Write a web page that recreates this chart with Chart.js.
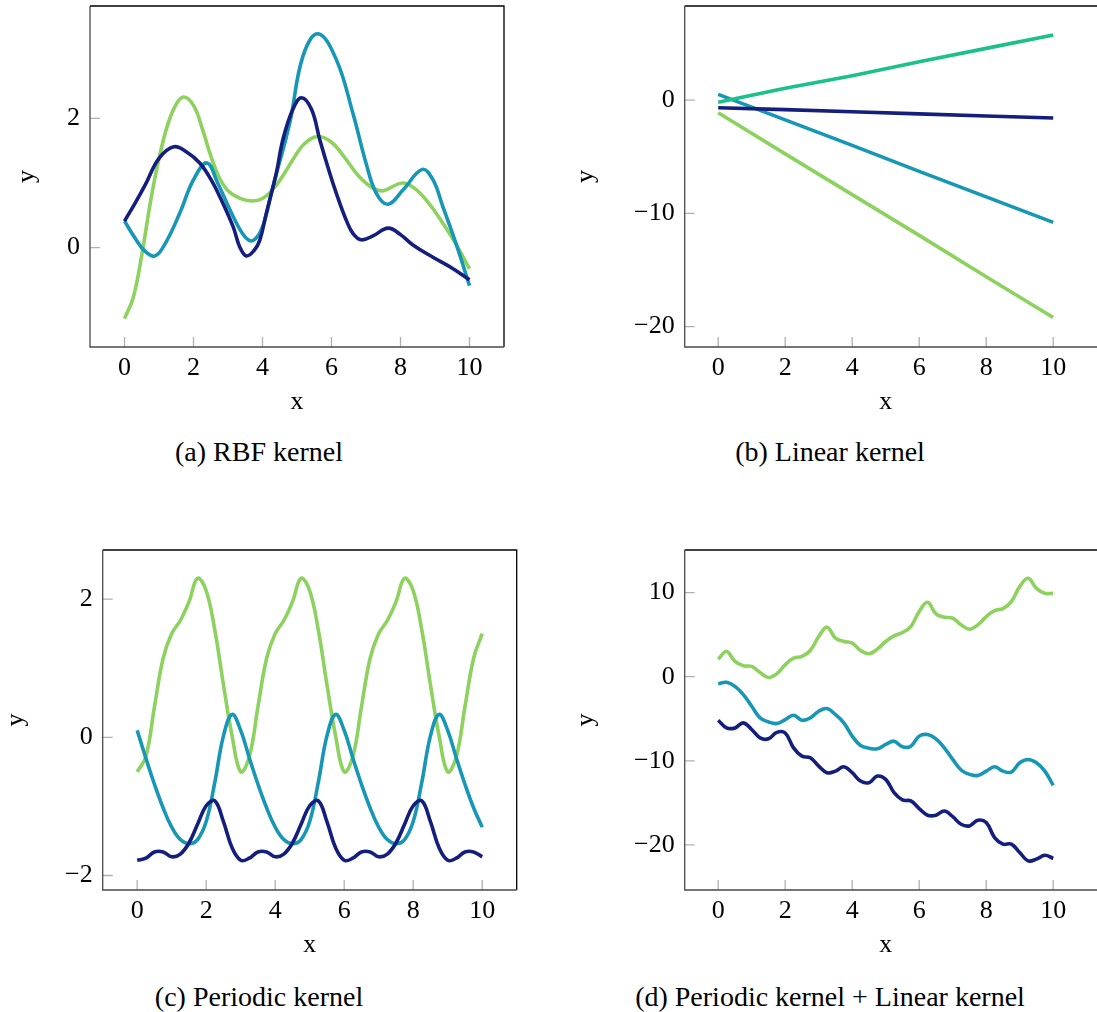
<!DOCTYPE html>
<html>
<head>
<meta charset="utf-8">
<script src="https://cdn.jsdelivr.net/npm/chart.js@4.4.1/dist/chart.umd.min.js"></script>
<style>
  body { margin: 0; background: #fff; width: 1097px; height: 1012px; overflow: hidden; position: relative; font-family: "Liberation Serif", serif; }
  canvas { position: absolute; }
  .cap { position: absolute; font-size: 28px; line-height: 28px; transform: translateX(-50%); white-space: nowrap; color: #000; }
</style>
</head>
<body>
<canvas id="rbf" width="520" height="427" style="left:0;top:0"></canvas>
<canvas id="lin" width="537" height="427" style="left:560px;top:0"></canvas>
<canvas id="per" width="530" height="426" style="left:0;top:544px"></canvas>
<canvas id="sum" width="537" height="426" style="left:560px;top:544px"></canvas>
<div class="cap" style="left:259px;top:438px">(a) RBF kernel</div>
<div class="cap" style="left:830px;top:438px">(b) Linear kernel</div>
<div class="cap" style="left:259px;top:983px">(c) Periodic kernel</div>
<div class="cap" style="left:830px;top:983px">(d) Periodic kernel + Linear kernel</div>
<script>
// x ticks shared by all four panels
const xTicks = [0, 2, 4, 6, 8, 10]

// (a) RBF kernel samples, [x, y]
const rbfGreen = [[0,-1.10],[0.25,-0.78],[0.5,-0.12],[0.75,0.70],[1.0,1.38],[1.25,1.90],[1.5,2.22],[1.72,2.33],[2.0,2.20],[2.25,1.85],[2.5,1.42],[2.75,1.08],[3.0,0.88],[3.35,0.76],[3.7,0.72],[4.0,0.76],[4.3,0.90],[4.6,1.12],[4.9,1.38],[5.2,1.60],[5.6,1.72],[6.0,1.63],[6.4,1.38],[6.8,1.10],[7.2,0.92],[7.5,0.88],[8.05,1.00],[8.4,0.92],[8.8,0.70],[9.2,0.40],[9.6,0.06],[10,-0.33]]
const rbfTeal = [[0,0.41],[0.3,0.15],[0.6,-0.06],[0.89,-0.13],[1.2,0.08],[1.6,0.53],[2.0,1.05],[2.39,1.31],[2.7,1.00],[3.15,0.48],[3.5,0.16],[3.73,0.11],[4.0,0.32],[4.3,0.94],[4.79,1.93],[5.17,2.96],[5.61,3.31],[6.14,2.91],[6.62,2.08],[7.0,1.31],[7.3,0.84],[7.64,0.67],[8.07,0.89],[8.63,1.21],[8.94,1.05],[9.23,0.63],[9.61,0.06],[10,-0.59]]
const rbfNavy = [[0,0.41],[0.3,0.68],[0.6,0.97],[1.0,1.38],[1.43,1.56],[1.8,1.48],[2.18,1.31],[2.5,1.06],[2.76,0.79],[3.15,0.32],[3.34,0.01],[3.53,-0.13],[3.75,-0.05],[3.92,0.11],[4.11,0.53],[4.4,1.15],[4.59,1.67],[4.88,2.14],[5.13,2.32],[5.42,2.14],[5.66,1.67],[5.95,1.15],[6.14,0.84],[6.43,0.42],[6.62,0.22],[6.86,0.12],[7.2,0.18],[7.64,0.30],[8.0,0.20],[8.36,0.04],[8.94,-0.15],[9.5,-0.32],[10,-0.50]]

// (b) Linear kernel
const linX = [0, 2, 4, 6, 8, 10]
const linSea = [-0.20, 1.03, 2.15, 3.38, 4.56, 5.74]
const linNavy = [-0.68, -0.85, -1.03, -1.22, -1.41, -1.59]
const linTeal = [0.50, -1.75, -4.00, -6.30, -8.55, -10.80]
const linGreen = [-1.12, -4.75, -8.35, -11.95, -15.60, -19.20]

// (c) and (d) sampled every 0.25
const gridX = [0,0.25,0.5,0.75,1,1.25,1.5,1.75,2,2.25,2.5,2.75,3,3.25,3.5,3.75,4,4.25,4.5,4.75,5,5.25,5.5,5.75,6,6.25,6.5,6.75,7,7.25,7.5,7.75,8,8.25,8.5,8.75,9,9.25,9.5,9.75,10]

const perGreen = [-0.50,-0.28,0.44,1.14,1.50,1.69,1.96,2.30,2.12,1.55,0.76,0.02,
  -0.50,-0.28,0.44,1.14,1.50,1.69,1.96,2.30,2.12,1.55,0.76,0.02,
  -0.50,-0.28,0.44,1.14,1.50,1.69,1.96,2.30,2.12,1.55,0.76,0.02,
  -0.50,-0.28,0.44,1.14,1.50]
const perTeal = [0.10,-0.30,-0.68,-1.02,-1.30,-1.48,-1.54,-1.48,-1.22,-0.65,0.02,0.33,
  0.10,-0.30,-0.68,-1.02,-1.30,-1.48,-1.54,-1.48,-1.22,-0.65,0.02,0.33,
  0.10,-0.30,-0.68,-1.02,-1.30,-1.48,-1.54,-1.48,-1.22,-0.65,0.02,0.33,
  0.10,-0.30,-0.68,-1.02,-1.30]
const perNavy = [-1.78,-1.75,-1.66,-1.66,-1.73,-1.69,-1.53,-1.26,-0.99,-0.92,-1.22,-1.60,
  -1.78,-1.75,-1.66,-1.66,-1.73,-1.69,-1.53,-1.26,-0.99,-0.92,-1.22,-1.60,
  -1.78,-1.75,-1.66,-1.66,-1.73,-1.69,-1.53,-1.26,-0.99,-0.92,-1.22,-1.60,
  -1.78,-1.75,-1.66,-1.66,-1.73]

const sumGreen = [2.09,3.00,1.82,1.30,1.22,0.51,-0.10,0.36,1.42,2.21,2.41,3.12,4.78,5.89,4.58,4.19,3.99,3.12,2.73,3.28,4.19,4.86,5.26,5.97,7.75,8.85,7.47,7.08,6.96,6.17,5.65,6.17,7.15,7.87,8.10,8.93,10.71,11.70,10.51,9.92,9.92]
const sumTeal = [-0.83,-0.67,-1.15,-2.13,-3.52,-4.90,-5.38,-5.57,-5.10,-4.58,-5.18,-4.90,-4.11,-3.79,-4.51,-5.49,-7.07,-8.18,-8.50,-8.58,-8.06,-7.67,-8.34,-8.26,-7.07,-6.88,-7.39,-8.46,-9.84,-11.10,-11.62,-11.74,-11.23,-10.71,-11.23,-11.34,-10.24,-9.84,-10.24,-11.23,-12.92]
const sumNavy = [-5.18,-6.09,-6.09,-5.49,-6.28,-7.27,-7.39,-6.62,-6.70,-8.46,-9.45,-9.64,-10.63,-11.42,-11.23,-10.71,-11.42,-12.41,-12.61,-11.82,-12.21,-13.79,-14.66,-14.78,-15.69,-16.48,-16.48,-15.97,-16.64,-17.55,-17.75,-17.08,-17.35,-19.13,-19.92,-19.92,-20.91,-21.90,-21.70,-21.23,-21.62]

const col = { green: '#8dd15f', teal: '#1797b5', navy: '#141e7c', sea: '#1bc08a' }
const tickFont = { family: 'Liberation Serif', size: 26 }

const pairs = (xs, ys) => ys.map((y, i) => ({ x: xs[i], y }))
const pts = arr => arr.map(p => ({ x: p[0], y: p[1] }))
const fmt = v => v < 0 ? '\u2212' + (-v) : String(v)

// pgfplots-like frame: inward grey ticks, box lines
const frame = {
    id: 'frame',
    beforeDatasetsDraw(chart, args, opts) {
        const { ctx, chartArea: a, scales } = chart
        ctx.save()
        ctx.strokeStyle = '#b0b0b0'
        ctx.lineWidth = 1.3
        ctx.beginPath()
        xTicks.forEach(v => {
            const px = scales.x.getPixelForValue(v)
            ctx.moveTo(px, a.bottom)
            ctx.lineTo(px, a.bottom - 10)
        })
        opts.yTicks.forEach(v => {
            const py = scales.y.getPixelForValue(v)
            ctx.moveTo(a.left, py)
            ctx.lineTo(a.left + 10, py)
        })
        ctx.stroke()
        ctx.restore()
    },
    afterDatasetsDraw(chart, args, opts) {
        const { ctx, chartArea: a, width } = chart
        const r = opts.open ? width : a.right
        ctx.save()
        ctx.lineWidth = 1.3
        ctx.strokeStyle = '#000'
        ctx.beginPath()
        ctx.moveTo(a.left, a.top)
        ctx.lineTo(r, a.top)
        if (!opts.open) {
            ctx.lineTo(a.right, a.bottom)
        }
        ctx.stroke()
        ctx.strokeStyle = '#4a4a4a'
        ctx.beginPath()
        ctx.moveTo(a.left, a.top)
        ctx.lineTo(a.left, a.bottom)
        ctx.lineTo(r, a.bottom)
        ctx.stroke()
        ctx.restore()
    }
}

const makeChart = (id, p) => {
    return new Chart(document.getElementById(id), {
        type: 'line',
        data: { datasets: p.sets.map(s => ({
            data: s.data,
            borderColor: s.color,
            borderWidth: 3.6,
            pointRadius: 0,
            tension: p.straight ? 0 : 0.4,
            fill: false
        })) },
        options: {
            responsive: false,
            animation: false,
            devicePixelRatio: 1,
            layout: { padding: { top: 6, right: p.right, left: 0, bottom: 0 } },
            plugins: {
                legend: { display: false },
                tooltip: { enabled: false },
                frame: { yTicks: p.yTicks, open: p.open }
            },
            scales: {
                x: {
                    type: 'linear', min: -1, max: 11,
                    afterBuildTicks: s => { s.ticks = xTicks.map(v => ({ value: v })) },
                    afterFit: s => { s.height = p.xH; s.paddingLeft = 0; s.paddingRight = 0 },
                    grid: { display: false, drawTicks: false },
                    border: { display: false },
                    ticks: { font: tickFont, color: '#000', padding: 6, maxRotation: 0, autoSkip: false, callback: fmt },
                    title: { display: true, text: 'x', font: tickFont, color: '#000', padding: { top: 0, bottom: 9 } }
                },
                y: {
                    type: 'linear', min: p.yMin, max: p.yMax,
                    afterBuildTicks: s => { s.ticks = p.yTicks.map(v => ({ value: v })) },
                    afterFit: s => { s.width = p.yW; s.paddingTop = 0; s.paddingBottom = 0 },
                    grid: { display: false, drawTicks: false },
                    border: { display: false },
                    ticks: { font: tickFont, color: '#000', padding: 10, autoSkip: false, callback: fmt },
                    title: { display: true, text: 'y', font: tickFont, color: '#000', padding: { top: p.yT, bottom: 0 } }
                }
            }
        },
        plugins: [frame]
    })
}

makeChart('rbf', {
    right: 16, yW: 90, yT: 11.7, xH: 80,
    yMin: -1.54, yMax: 3.74, yTicks: [0, 2], open: false,
    sets: [
        { data: pts(rbfNavy), color: col.navy },
        { data: pts(rbfTeal), color: col.teal },
        { data: pts(rbfGreen), color: col.green }
    ]
})

makeChart('lin', {
    right: 10.3, yW: 124.7, yT: 10.7, xH: 80, straight: true,
    yMin: -21.8, yMax: 8.3, yTicks: [-20, -10, 0], open: true,
    sets: [
        { data: pairs(linX, linNavy), color: col.navy },
        { data: pairs(linX, linSea), color: col.sea },
        { data: pairs(linX, linTeal), color: col.teal },
        { data: pairs(linX, linGreen), color: col.green }
    ]
})

makeChart('per', {
    right: 13.3, yW: 102.7, yT: 0.7, xH: 80,
    yMin: -2.21, yMax: 2.71, yTicks: [-2, 0, 2], open: false,
    sets: [
        { data: pairs(gridX, perNavy), color: col.navy },
        { data: pairs(gridX, perTeal), color: col.teal },
        { data: pairs(gridX, perGreen), color: col.green }
    ]
})

makeChart('sum', {
    right: 10.3, yW: 124.7, yT: 10.7, xH: 80,
    yMin: -25.37, yMax: 15.07, yTicks: [-20, -10, 0, 10], open: true,
    sets: [
        { data: pairs(gridX, sumNavy), color: col.navy },
        { data: pairs(gridX, sumTeal), color: col.teal },
        { data: pairs(gridX, sumGreen), color: col.green }
    ]
})
</script>
</body>
</html>
